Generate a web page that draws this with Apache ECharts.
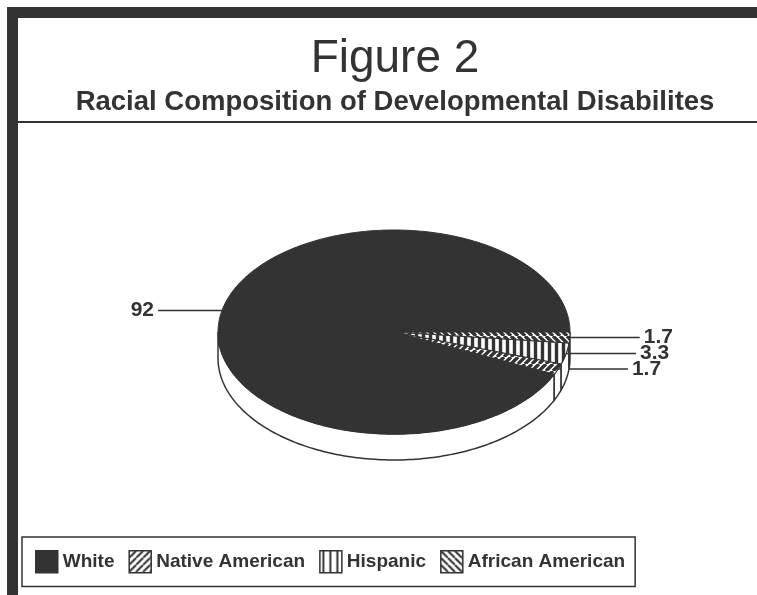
<!DOCTYPE html>
<html>
<head>
<meta charset="utf-8">
<script src="https://cdn.jsdelivr.net/npm/echarts@6/dist/echarts.min.js"></script>
<style>
  html, body { margin: 0; padding: 0; background: #fff; }
  #main { width: 757px; height: 595px; }
</style>
</head>
<body>
<div id="main"></div>
<script>
// values (percent)
const categories = ['White', 'Native American', 'Hispanic', 'African American']
const values = [92, 1.7, 3.3, 1.7]
const valueLabels = ['92', '1.7', '3.3', '1.7']
const hatches = ['solid', 'slash', 'vertical', 'backslash']

const ink = '#333'
const font = '"Liberation Sans", Arial, Helvetica, sans-serif'

// tilted disk geometry
const cx = 394, cy = 332, rx = 176, ry = 102, depth = 26

// fill pattern for a slice (s = tile size, w = stroke width)
function makeFill(kind, s, w) {
  if (kind === 'solid') return ink
  const c = document.createElement('canvas')
  c.width = s
  c.height = s
  const g = c.getContext('2d')
  g.fillStyle = '#fff'
  g.fillRect(0, 0, s, s)
  g.strokeStyle = ink
  g.lineWidth = w
  g.beginPath()
  if (kind === 'vertical') {
    g.moveTo(s / 2, 0)
    g.lineTo(s / 2, s)
  } else {
    for (let k = -1; k <= 1; k++) {
      if (kind === 'slash') {
        g.moveTo(k * s, s)
        g.lineTo(k * s + s, 0)
      } else {
        g.moveTo(k * s, 0)
        g.lineTo(k * s + s, s)
      }
    }
  }
  g.stroke()
  return { image: c, repeat: 'repeat' }
}
const fills = hatches.map(h => makeFill(h, 7, 3.4))
const legendFills = hatches.map(h => makeFill(h, 7, 2))

// slices go clockwise from 3 o'clock in reverse legend order
const total = values.reduce((a, b) => a + b, 0)
const startAt = []
let acc = 0
for (let i = values.length - 1; i >= 0; i--) {
  startAt[i] = acc
  acc += values[i]
}

function pt(a, dy) {
  return [cx + rx * Math.cos(a), cy + ry * Math.sin(a) + (dy || 0)]
}

function arc(a0, a1, dy) {
  const n = Math.max(2, Math.ceil((a1 - a0) / 0.02))
  const out = []
  for (let k = 0; k <= n; k++) out.push(pt(a0 + (a1 - a0) * k / n, dy))
  return out
}

function renderItem(params, api) {
  const v = api.value(0)
  const s = api.value(1)
  const i = api.value(2)
  const a0 = s / total * Math.PI * 2
  const a1 = (s + v) / total * Math.PI * 2
  const children = []

  // visible side wall (front half only)
  const f0 = Math.max(a0, 0)
  const f1 = Math.min(a1, Math.PI)
  if (f1 > f0) {
    const side = arc(f0, f1, 0).concat(arc(f0, f1, depth).reverse())
    children.push({
      type: 'polygon',
      shape: { points: side },
      style: { fill: '#fff', stroke: ink, lineWidth: 1.5 }
    })
  }

  // top face
  children.push({
    type: 'polygon',
    shape: { points: [[cx, cy]].concat(arc(a0, a1, 0)) },
    style: { fill: fills[i], stroke: ink, lineWidth: 1 }
  })

  // leader line + value
  const mid = (a0 + a1) / 2
  const p = pt(mid, 0)
  const right = Math.cos(mid) >= 0
  const len = right ? 70 : 64
  const ex = right ? p[0] + len : p[0] - len
  children.push({
    type: 'line',
    shape: { x1: p[0], y1: p[1], x2: ex, y2: p[1] },
    style: { stroke: ink, lineWidth: 1.5 }
  })
  children.push({
    type: 'text',
    x: right ? ex + 4 : ex - 4,
    y: p[1],
    style: {
      text: valueLabels[i],
      fill: ink,
      font: 'bold 21px ' + font,
      align: right ? 'left' : 'right',
      verticalAlign: 'middle'
    }
  })

  return { type: 'group', children: children }
}

const chart = echarts.init(document.getElementById('main'))

chart.setOption({
  backgroundColor: '#fff',
  animation: false,
  title: {
    text: 'Figure 2',
    subtext: 'Racial Composition of Developmental Disabilites',
    left: 395,
    top: 36,
    textAlign: 'center',
    itemGap: 6,
    padding: 0,
    textStyle: { fontSize: 46, fontWeight: 'normal', color: ink, fontFamily: font },
    subtextStyle: { fontSize: 27.5, fontWeight: 'bold', color: ink, fontFamily: font }
  },
  legend: {
    data: categories.map((name, i) => ({
      name: name,
      itemStyle: { color: legendFills[i], borderColor: ink, borderWidth: 1.5 }
    })),
    left: 22,
    top: 537,
    icon: 'rect',
    itemWidth: 22,
    itemHeight: 22,
    itemGap: 14,
    padding: [13, 10, 13, 13],
    borderColor: ink,
    borderWidth: 1.5,
    selectedMode: false,
    textStyle: { fontSize: 19, fontWeight: 'bold', color: ink, fontFamily: font }
  },
  graphic: [
    { type: 'rect', shape: { x: 7, y: 7, width: 750, height: 11 }, style: { fill: ink } },
    { type: 'rect', shape: { x: 7, y: 7, width: 11, height: 588 }, style: { fill: ink } },
    { type: 'line', shape: { x1: 18, y1: 122, x2: 757, y2: 122 }, style: { stroke: ink, lineWidth: 2 } }
  ],
  series: categories.map((name, i) => ({
    type: 'custom',
    name: name,
    coordinateSystem: 'none',
    itemStyle: { color: fills[i], borderColor: ink, borderWidth: 1.2 },
    data: [[values[i], startAt[i], i]],
    renderItem: renderItem
  }))
})
</script>
</body>
</html>
